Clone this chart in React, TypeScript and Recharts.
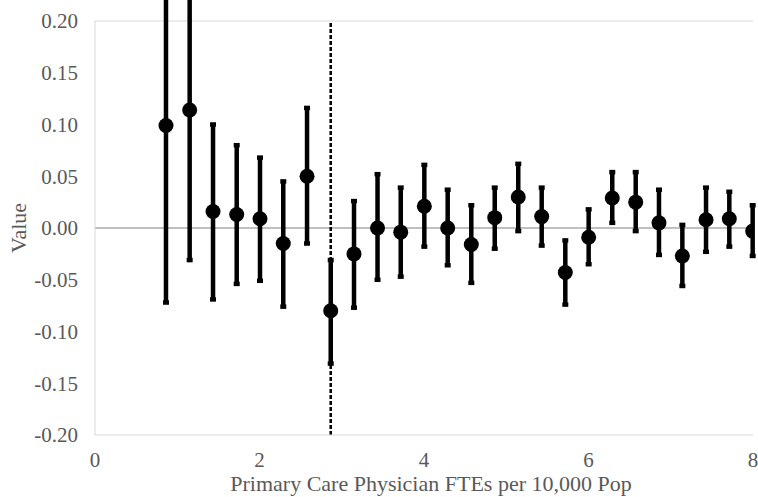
import React from "react";
import {
  ScatterChart,
  Scatter,
  XAxis,
  YAxis,
  ErrorBar,
  ReferenceLine,
} from "recharts";

// bin centres (FTEs per 10,000 pop)
const xVals = [
  0.863, 1.151, 1.435, 1.723, 2.006, 2.289, 2.578, 2.866, 3.149, 3.435, 3.717,
  4.004, 4.288, 4.575, 4.86, 5.146, 5.431, 5.718, 6.002, 6.289, 6.574, 6.857,
  7.141, 7.429, 7.712, 7.996,
];
// point estimates
const yVals = [
  0.099, 0.114, 0.016, 0.013, 0.009, -0.015, 0.05, -0.08, -0.025, 0.0, -0.004,
  0.021, 0.0, -0.016, 0.01, 0.03, 0.011, -0.043, -0.009, 0.029, 0.025, 0.005,
  -0.027, 0.008, 0.009, -0.003,
];
// confidence interval bounds
const lowVals = [
  -0.072, -0.031, -0.069, -0.054, -0.051, -0.076, -0.015, -0.131, -0.077, -0.05,
  -0.047, -0.018, -0.036, -0.053, -0.02, -0.003, -0.017, -0.074, -0.035, 0.005,
  -0.003, -0.026, -0.056, -0.023, -0.018, -0.027,
];
const highVals = [
  0.26, 0.26, 0.1, 0.08, 0.068, 0.045, 0.116, -0.031, 0.026, 0.052, 0.039,
  0.061, 0.037, 0.022, 0.039, 0.062, 0.039, -0.012, 0.018, 0.054, 0.054, 0.037,
  0.003, 0.039, 0.035, 0.022,
];
const cutoff = 2.866;
const xTicks = [0, 2, 4, 6, 8];
const yTicks = [-0.2, -0.15, -0.1, -0.05, 0, 0.05, 0.1, 0.15, 0.2];

const data = xVals.map((x, i) => ({
  x,
  y: yVals[i],
  err: [yVals[i] - lowVals[i], highVals[i] - yVals[i]],
}));

const FONT = "'Liberation Serif', 'Times New Roman', serif";
const TEXT = "#595959";

const Dot = (props: any) => (
  <circle cx={props.cx} cy={props.cy} r={7.5} fill="#000" />
);

const XTick = (props: any) => (
  <text
    x={props.x}
    y={props.y}
    dy="0.71em"
    textAnchor="middle"
    fill={TEXT}
    fontSize={21}
    fontFamily={FONT}
  >
    {props.payload.value}
  </text>
);

const YTick = (props: any) => (
  <text
    x={props.x}
    y={props.y}
    dy="0.35em"
    textAnchor="end"
    fill={TEXT}
    fontSize={21}
    fontFamily={FONT}
  >
    {Number(props.payload.value).toFixed(2)}
  </text>
);

export default function App() {
  return (
    <div style={{ position: "absolute", left: 0, top: 0, background: "#fff" }}>
      <ScatterChart
        width={758}
        height={497}
        margin={{ top: 21, right: 5, bottom: 0, left: 0 }}
      >
        <XAxis
          type="number"
          dataKey="x"
          domain={[0, 8]}
          ticks={xTicks}
          allowDataOverflow
          tickLine={false}
          tickSize={0}
          tickMargin={17}
          height={62}
          axisLine={{ stroke: "#d9d9d9" }}
          tick={XTick}
          label={{
            value: "Primary Care Physician FTEs per 10,000 Pop",
            position: "insideBottom",
            offset: 6,
            dx: 7,
            fill: TEXT,
            fontSize: 22,
            fontFamily: FONT,
          }}
        />
        <YAxis
          type="number"
          dataKey="y"
          domain={[-0.2, 0.2]}
          ticks={yTicks}
          allowDataOverflow
          tickLine={false}
          tickSize={0}
          tickMargin={17}
          width={95}
          axisLine={{ stroke: "#d9d9d9" }}
          tick={YTick}
          label={{
            value: "Value",
            angle: -90,
            position: "insideLeft",
            offset: 18,
            textAnchor: "middle",
            fill: TEXT,
            fontSize: 22,
            fontFamily: FONT,
          }}
        />
        <ReferenceLine y={0.2} stroke="#d9d9d9" strokeWidth={1} />
        <ReferenceLine y={0} stroke="#bfbfbf" strokeWidth={2} />
        <ReferenceLine
          x={cutoff}
          stroke="#000"
          strokeWidth={2.5}
          strokeDasharray="4 2"
        />
        <Scatter data={data} shape={Dot} isAnimationActive={false}>
          <ErrorBar
            dataKey="err"
            direction="y"
            width={3}
            stroke="#000"
            strokeWidth={4.5}
            isAnimationActive={false}
          />
        </Scatter>
      </ScatterChart>
    </div>
  );
}
